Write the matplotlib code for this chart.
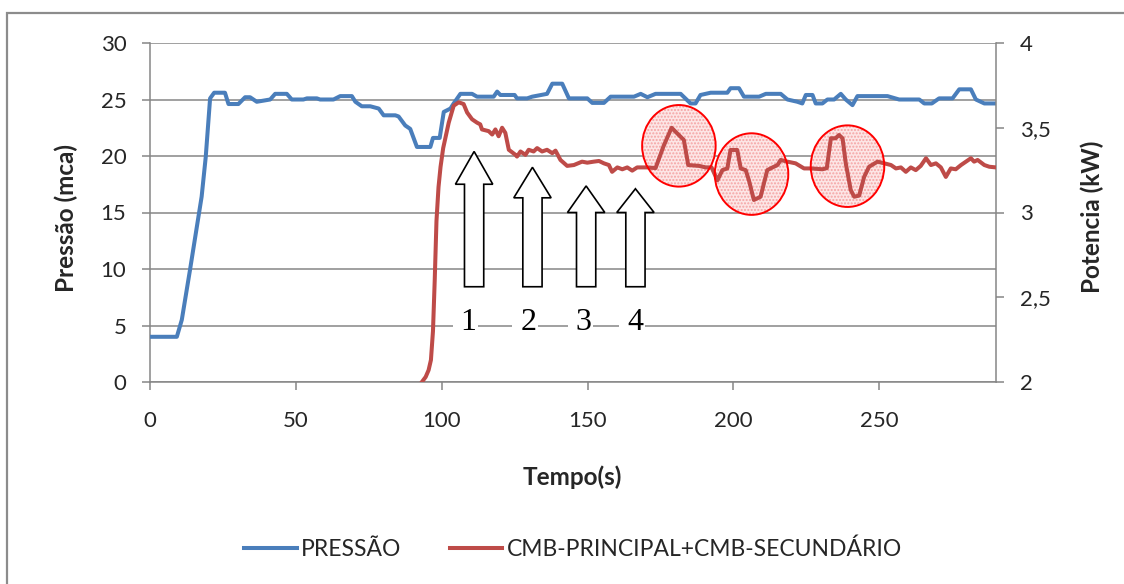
import matplotlib
matplotlib.use("Agg")
import matplotlib.pyplot as plt
from matplotlib.patches import Ellipse, Polygon, Rectangle

plt.rcParams['font.family'] = ['Lato', 'DejaVu Sans']

# ---- data -------------------------------------------------------------
tempo_pressao = [0, 9.2, 10.9, 13.7, 17.7, 19.1, 20.6, 22.0, 25.7, 26.9,
                 30.3, 32.6, 34.3, 36.6, 41.2, 42.9, 46.9, 48.6, 52.6, 53.8,
                 57.2, 58.3, 62.9, 65.2, 69.2, 70.4, 72.6, 75.5, 78.4, 80.1,
                 84.1, 85.2, 87.5, 89.2, 91.5, 96.1, 97.0, 99.3, 100.7, 103.0,
                 104.1, 106.4, 110.4, 112.1, 117.8, 119.0, 120.1, 125.0, 125.8, 129.3,
                 131.0, 136.1, 137.9, 141.3, 143.6, 149.9, 151.6, 155.6, 157.9, 165.9,
                 168.2, 170.5, 173.3, 181.9, 185.3, 187.0, 188.7, 192.2, 197.9, 199.0,
                 201.9, 203.6, 208.8, 211.1, 216.2, 218.5, 221.9, 223.6, 224.8, 227.1,
                 228.2, 230.5, 232.2, 234.5, 236.8, 238.5, 240.8, 242.5, 252.8, 256.8,
                 263.7, 265.4, 268.0, 270.5, 275.1, 277.4, 281.4, 283.1, 286.0, 290.0]
pressao = [4.0, 4.0, 5.5, 9.9, 16.4, 19.9, 25.1, 25.6, 25.6, 24.6,
           24.6, 25.2, 25.2, 24.8, 25.0, 25.5, 25.5, 25.0, 25.0, 25.1,
           25.1, 25.0, 25.0, 25.3, 25.3, 24.8, 24.4, 24.4, 24.2, 23.6,
           23.6, 23.5, 22.7, 22.4, 20.8, 20.8, 21.6, 21.6, 23.9, 24.2,
           24.65, 25.5, 25.5, 25.25, 25.25, 25.7, 25.4, 25.4, 25.1, 25.1,
           25.25, 25.5, 26.4, 26.4, 25.1, 25.1, 24.7, 24.7, 25.25, 25.25,
           25.5, 25.2, 25.5, 25.5, 24.65, 24.65, 25.4, 25.6, 25.6, 26.0,
           26.0, 25.25, 25.25, 25.5, 25.5, 25.0, 24.8, 24.65, 25.4, 25.4,
           24.65, 24.65, 25.0, 25.0, 25.5, 25.0, 24.5, 25.3, 25.3, 25.0,
           25.0, 24.65, 24.65, 25.1, 25.1, 25.9, 25.9, 25.0, 24.65, 24.65]

tempo_potencia = [93.2, 94.5, 95.5, 96.3, 97.0, 97.6, 98.2, 98.9, 99.6, 100.5,
                  102.4, 104.1, 105.8, 107.5,
                  108.7, 110.4, 112.1, 113.2, 113.8, 116.1, 117.3, 118.4, 119.5, 120.7,
                  121.8, 123.0, 125.3, 125.8, 127.0, 128.7, 129.8, 131.5, 132.7, 134.4,
                  136.1, 137.9, 139.0, 140.7, 143.0, 145.3, 148.1, 149.9, 152.1, 153.9,
                  155.6, 157.3, 158.4, 160.2, 161.9, 163.6, 165.3, 167.0, 170.4, 173.3,
                  176.0, 178.8, 180.7, 183.0, 184.5, 188.2, 190.5, 192.5, 194.5, 196.2,
                  197.9, 199.0, 201.3, 202.5, 204.2, 205.3, 207.0, 209.3, 211.0, 211.6,
                  213.4, 215.1, 216.2, 218.5, 221.3, 224.2, 226.5, 230.5, 232.0, 233.4,
                  235.0, 236.2, 237.4, 238.5, 240.2, 241.4, 243.1, 244.8, 246.5, 249.4,
                  251.7, 254.0, 255.7, 257.4, 259.1, 260.8, 262.5, 264.2, 266.0, 267.7,
                  269.4, 271.1, 272.8, 274.5, 276.2, 278.0, 279.7, 281.4, 282.5, 283.7,
                  286.0, 287.7, 290.0]
potencia = [2.0, 2.03, 2.07, 2.13, 2.3, 2.6, 2.95, 3.15, 3.27, 3.38,
            3.53, 3.63, 3.65, 3.64,
            3.59, 3.55, 3.53, 3.52, 3.49, 3.48, 3.46, 3.49, 3.45, 3.50,
            3.47, 3.37, 3.34, 3.33, 3.36, 3.34, 3.37, 3.36, 3.38, 3.36,
            3.37, 3.35, 3.365, 3.31, 3.275, 3.28, 3.30, 3.294, 3.30, 3.304,
            3.29, 3.28, 3.24, 3.266, 3.255, 3.266, 3.247, 3.266, 3.266, 3.262,
            3.39, 3.50, 3.467, 3.428, 3.28, 3.275, 3.266, 3.266, 3.19, 3.25,
            3.26, 3.369, 3.369, 3.26, 3.25, 3.19, 3.074, 3.093, 3.21, 3.25,
            3.266, 3.28, 3.31, 3.30, 3.29, 3.26, 3.26, 3.255, 3.262, 3.438,
            3.438, 3.457, 3.438, 3.29, 3.133, 3.093, 3.10, 3.21, 3.27, 3.30,
            3.29, 3.28, 3.26, 3.266, 3.24, 3.266, 3.25, 3.275, 3.32, 3.28,
            3.29, 3.266, 3.21, 3.26, 3.255, 3.28, 3.30, 3.32, 3.30, 3.31,
            3.28, 3.27, 3.266]

xticks = [0, 50, 100, 150, 200, 250]
yticks_pressao = [0, 5, 10, 15, 20, 25, 30]
yticks_potencia = [2, 2.5, 3, 3.5, 4]
ytick_labels_potencia = ["2", "2,5", "3", "3,5", "4"]

# numbered arrows: (centre time, tip pressure, head-base pressure, label, label right edge)
setas = [(111.1, 20.4, 17.5, "1", 112.1),
         (131.1, 19.0, 16.3, "2", 132.7),
         (149.5, 17.35, 15.0, "3", 151.6),
         (166.4, 17.1, 15.0, "4", 169.3)]
# highlighted events: (centre time, centre pressure)
eventos = [(181.3, 20.9), (206.2, 18.4), (239.1, 19.1)]

AZUL = "#4A7EBB"
VERMELHO = "#BE4B48"
CINZA = "#868686"
TXT = "#262626"

W, H = 1124, 584
fig = plt.figure(figsize=(W / 100, H / 100), dpi=100)

x0, x1, y_top, y_bot = 150, 996, 43, 382
ax1 = fig.add_axes([x0 / W, 1 - y_bot / H, (x1 - x0) / W, (y_bot - y_top) / H])
ax2 = ax1.twinx()

ax1.plot(tempo_pressao, pressao, color=AZUL, lw=2.9, solid_joinstyle='round',
         label="PRESSÃO", zorder=3)
ax2.plot(tempo_potencia, potencia, color=VERMELHO, lw=2.9, solid_joinstyle='round',
         label="CMB-PRINCIPAL+CMB-SECUNDÁRIO", zorder=3)

ax1.set_xlim(0, 290)
ax1.set_ylim(0, 30)
ax2.set_ylim(2, 4)
ax1.set_xticks(xticks)
ax1.set_yticks(yticks_pressao)
ax2.set_yticks(yticks_potencia)
ax2.set_yticklabels(ytick_labels_potencia)

ax1.grid(axis='y', color=CINZA, lw=1.1)
ax1.set_axisbelow(True)
for ax in (ax1, ax2):
    for s in ax.spines.values():
        s.set_color(CINZA)
        s.set_linewidth(1.1)
    ax.spines['top'].set_visible(False)
ax1.spines['right'].set_visible(False)
ax2.spines['left'].set_visible(False)
ax2.spines['bottom'].set_visible(False)

ax1.tick_params(axis='both', colors=CINZA, labelcolor=TXT, labelsize=16,
                length=6, width=1.1)
ax1.tick_params(axis='y', pad=11)
ax1.tick_params(axis='x', pad=15)
ax2.tick_params(axis='y', colors=CINZA, labelcolor=TXT, labelsize=16,
                length=6, width=1.1, pad=11)

# axis titles
fig.text(66 / W, 1 - 218 / H, "Pressão (mca)", rotation=90, ha='center',
         va='center', fontsize=17.5, fontweight='bold', color=TXT)
fig.text(1092 / W, 1 - 216.5 / H, "Potencia (kW)", rotation=90, ha='center',
         va='center', fontsize=17.5, fontweight='bold', color=TXT)
fig.text(572 / W, 1 - 477 / H, "Tempo(s)", ha='center', va='center',
         fontsize=17.5, fontweight='bold', color=TXT)

# highlighted events: stippled pink circles (fill under the curve, outline on top)
for (tc, pc) in eventos:
    ax2.add_patch(Ellipse((tc, pc), 25.2, 7.22, transform=ax1.transData,
                          facecolor='#fde6e6', edgecolor='#f4a3a3', hatch='.....',
                          lw=0, zorder=2))
    ax2.add_patch(Ellipse((tc, pc), 25.2, 7.22, transform=ax1.transData,
                          facecolor='none', edgecolor='#ff0000', lw=1.4, zorder=5))

# block arrows with numbers
shaft_hw = 3.3
head_hw = 6.4
base_p = 8.43
for (tc, tip, head, lab, lx) in setas:
    pts = [(tc - shaft_hw, base_p), (tc + shaft_hw, base_p), (tc + shaft_hw, head),
           (tc + head_hw, head), (tc, tip), (tc - head_hw, head),
           (tc - shaft_hw, head)]
    ax2.add_patch(Polygon(pts, closed=True, transform=ax1.transData,
                          facecolor='white', edgecolor='black', lw=1.2, zorder=6))
    ax2.text(lx, 4.6, " " + lab, transform=ax1.transData, ha='right',
             va='baseline', fontsize=23, family=['Liberation Serif', 'DejaVu Serif'],
             color='black', zorder=6,
             bbox=dict(boxstyle='square,pad=0.02', fc='white', ec='none'))

# legend
h1, l1 = ax1.get_legend_handles_labels()
h2, l2 = ax2.get_legend_handles_labels()
fig.legend(h1 + h2, l1 + l2, loc='center', bbox_to_anchor=(573 / W, 1 - 549 / H),
           ncol=2, frameon=False, fontsize=16.5, handlelength=2.3,
           handletextpad=0.2, columnspacing=2.1, labelcolor=TXT)

# chart frame
fig.add_artist(Rectangle((7 / W, -0.2), 2.0, 1.2 - 13 / H, transform=fig.transFigure,
                         fill=False, edgecolor='#8c8c8c', lw=1.6, clip_on=False))

fig.savefig("out.png", dpi=100)
